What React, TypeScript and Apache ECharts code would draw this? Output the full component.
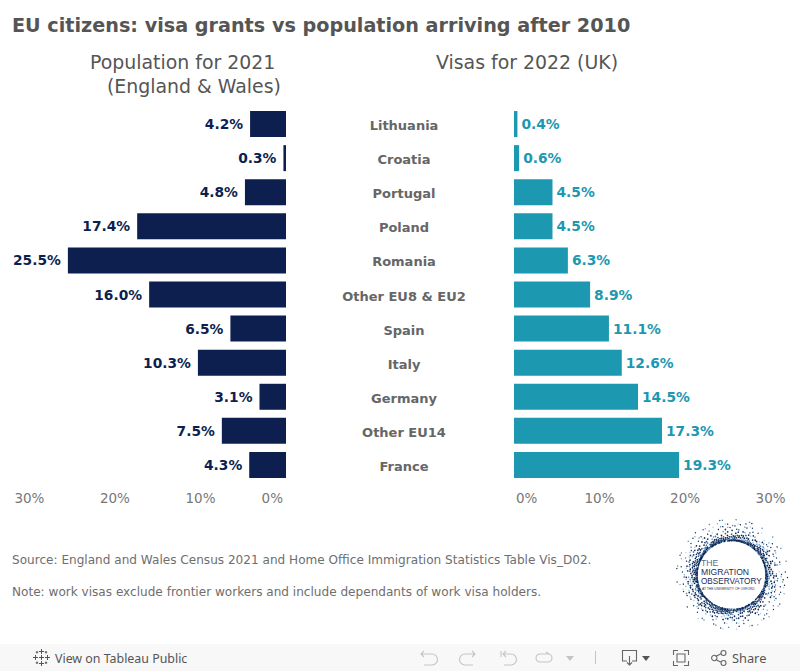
import React, { useEffect, useRef } from "react";
import * as echarts from "echarts";

const categories = ["Lithuania", "Croatia", "Portugal", "Poland", "Romania", "Other EU8 & EU2", "Spain", "Italy", "Germany", "Other EU14", "France"];
const population = [4.2, 0.3, 4.8, 17.4, 25.5, 16.0, 6.5, 10.3, 3.1, 7.5, 4.3];
const visas = [0.4, 0.6, 4.5, 4.5, 6.3, 8.9, 11.1, 12.6, 14.5, 17.3, 19.3];

const FONT = "DejaVu Sans";
const NAVY = "#0d1f4f";
const TEAL = "#1c98b0";

echarts.graphic.registerShape("tbUndo", echarts.graphic.extendPath("M1 4 L12 4 A5.5 5.5 0 0 1 12 15 L4 15 M4 1 L1 4 L4 7", {}));
echarts.graphic.registerShape("tbRedo", echarts.graphic.extendPath("M15 4 L5 4 A5.5 5.5 0 0 0 5 15 L13 15 M12 1 L15 4 L12 7", {}));
echarts.graphic.registerShape("tbRevert", echarts.graphic.extendPath("M1 1 L1 7 M3 4 L11 4 A5.5 5.5 0 0 1 11 15 L4 15 M6 1 L3 4 L6 7", {}));
echarts.graphic.registerShape("tbRefresh", echarts.graphic.extendPath("M12 3 L4 3 A4 4 0 0 0 4 11 L12 11 A4 4 0 0 0 12 3 M10 1 L13 3", {}));
echarts.graphic.registerShape("tbDownload", echarts.graphic.extendPath("M5 11 L0.5 11 L0.5 0.5 L14.5 0.5 L14.5 11 L10 11 M7.5 6 L7.5 15 M5 12.5 L7.5 15 L10 12.5", {}));
echarts.graphic.registerShape("tbFull", echarts.graphic.extendPath("M0.5 5 L0.5 0.5 L5 0.5 M11 0.5 L15.5 0.5 L15.5 5 M15.5 11 L15.5 15.5 L11 15.5 M5 15.5 L0.5 15.5 L0.5 11 M4 4 L12 4 L12 12 L4 12 Z", {}));
echarts.graphic.registerShape("tbShare", echarts.graphic.extendPath("M4.5 6.5 L10.5 3.5 M4.5 9.5 L10.5 12.5 M6 8 A2.7 2.7 0 1 1 0.6 8 A2.7 2.7 0 1 1 6 8 M15 3 A2.5 2.5 0 1 1 10 3 A2.5 2.5 0 1 1 15 3 M15 13 A2.5 2.5 0 1 1 10 13 A2.5 2.5 0 1 1 15 13", {}));
echarts.graphic.registerShape("tbLogo", echarts.graphic.extendPath("M8.5 0 L8.5 5 M6 2.5 L11 2.5 M8.5 12 L8.5 17 M6 14.5 L11 14.5 M2.5 6 L2.5 11 M0 8.5 L5 8.5 M14.5 6 L14.5 11 M12 8.5 L17 8.5 M8.5 6 L8.5 11 M6 8.5 L11 8.5 M4 2 L4 4.5 M2.8 3.2 L5.2 3.2 M13 2 L13 4.5 M11.8 3.2 L14.2 3.2 M4 12.5 L4 15 M2.8 13.8 L5.2 13.8 M13 12.5 L13 15 M11.8 13.8 L14.2 13.8", {}));

function logoDots() {
  const cx = 731.5, cy = 575;
  const dark = ["#0d1f4f", "#16305f", "#24527f", "#0d1f4f"];
  const light = ["#3c7fae", "#6fa8cf", "#a9cfe6"];
  const dots: any[] = [];
  const golden = 2.399963;
  for (let i = 0; i < 1250; i++) {
    const u = (i * 0.754877) % 1;
    const r = 34.5 + 22 * Math.pow(u, 2.9);
    const a = i * golden;
    dots.push({
      type: "circle", silent: true,
      shape: { cx: cx + r * Math.cos(a), cy: cy + r * Math.sin(a), r: r > 46 ? 0.65 : 0.8 },
      style: { fill: (u > 0.72 ? i % 2 === 0 : i % 5 === 0) ? light[i % 3] : dark[i % 4] },
    });
  }
  return dots;
}

const txt = (x: number, y: number, text: string, font: string, fill: string) => ({
  type: "text", x, y, silent: true,
  style: { text, font, fill, textVerticalAlign: "middle", textBaseline: "middle" },
});

function buildOption() {
  const toolbarStroke = { stroke: "#666666", lineWidth: 1.1, fill: "none" };
  const disabledStroke = { stroke: "#c4c4c4", lineWidth: 1.1, fill: "none" };
  const axisLabelBase = { color: "#777777", fontFamily: FONT, fontSize: 13.5, margin: 9 };
  const zeroStyle = { color: "#777777", fontFamily: FONT, fontSize: 13.5 };
  const xCommon = {
    type: "value", min: 0, max: 30, interval: 10,
    axisLine: { show: false }, axisTick: { show: false }, splitLine: { show: false },
  };
  return {
    animation: false,
    backgroundColor: "#ffffff",
    grid: [
      { left: 29.4, width: 256.6, top: 107, height: 375 },
      { left: 514, width: 256.6, top: 107, height: 375 },
    ],
    xAxis: [
      { ...xCommon, gridIndex: 0, inverse: true, axisLabel: { ...axisLabelBase, alignMinLabel: "right", formatter: (v: number) => (v === 0 ? "{z|0%}" : `${v}%`), rich: { z: { ...zeroStyle, padding: [0, 3, 0, 0] } } } },
      { ...xCommon, gridIndex: 1, axisLabel: { ...axisLabelBase, alignMinLabel: "left", formatter: (v: number) => (v === 0 ? "{z|0%}" : `${v}%`), rich: { z: { ...zeroStyle, padding: [0, 0, 0, 2] } } } },
    ],
    yAxis: [
      { type: "category", gridIndex: 0, inverse: true, data: categories, axisLine: { show: false }, axisTick: { show: false }, axisLabel: { show: false } },
      {
        type: "category", gridIndex: 1, inverse: true, data: categories,
        axisLine: { show: false }, axisTick: { show: false },
        axisLabel: {
          margin: 110, align: "center",
          formatter: (v: string) => `{c|${v}}`,
          rich: { c: { color: "#666666", fontFamily: FONT, fontSize: 13, fontWeight: "bold", padding: [3, 0, 0, 0] } },
        },
      },
    ],
    series: [
      {
        type: "bar", xAxisIndex: 0, yAxisIndex: 0, data: population, barWidth: 26,
        itemStyle: { color: NAVY },
        label: { show: true, position: "left", distance: 7, color: NAVY, fontFamily: FONT, fontSize: 13.8, fontWeight: "bold", formatter: (p: any) => `${p.value.toFixed(1)}%` },
      },
      {
        type: "bar", xAxisIndex: 1, yAxisIndex: 1, data: visas, barWidth: 26,
        itemStyle: { color: TEAL },
        label: { show: true, position: "right", distance: 4, color: TEAL, fontFamily: FONT, fontSize: 13.8, fontWeight: "bold", formatter: (p: any) => `${p.value.toFixed(1)}%` },
      },
    ],
    graphic: [
      txt(12, 25, "EU citizens: visa grants vs population arriving after 2010", `bold 19.2px "${FONT}"`, "#555555"),
      txt(90, 62, "Population for 2021", `18.9px "${FONT}"`, "#555555"),
      txt(107, 86, "(England & Wales)", `18.9px "${FONT}"`, "#555555"),
      txt(436, 62, "Visas for 2022 (UK)", `18.9px "${FONT}"`, "#555555"),
      txt(12, 560, "Source: England and Wales Census 2021 and Home Office Immigration Statistics Table Vis_D02.", `12.08px "${FONT}"`, "#6e6e6e"),
      txt(12, 592, "Note: work visas exclude frontier workers and include dependants of work visa holders.", `12.08px "${FONT}"`, "#6e6e6e"),
      { type: "group", silent: true, children: logoDots() },
      txt(701, 563, "THE", `8.6px "Liberation Sans"`, "#56698f"),
      txt(701, 572, "MIGRATION", `8.6px "Liberation Sans"`, "#1b2c5a"),
      txt(701, 581, "OBSERVATORY", `8.2px "Liberation Sans"`, "#1b2c5a"),
      txt(702, 588.5, "AT THE UNIVERSITY OF OXFORD", `3.3px "Liberation Sans"`, "#1b2c5a"),
      { type: "rect", silent: true, shape: { x: 0, y: 644, width: 800, height: 27 }, style: { fill: "#f8f8f8" } },
      { type: "tbLogo", x: 33, y: 649, style: { stroke: "#555555", lineWidth: 1, fill: "none" }, silent: true },
      txt(55, 658, "View on Tableau Public", `12.4px "Noto Sans"`, "#555555"),
      { type: "tbUndo", x: 420, y: 650, style: disabledStroke, silent: true },
      { type: "tbRedo", x: 460, y: 650, style: disabledStroke, silent: true },
      { type: "tbRevert", x: 500, y: 650, style: disabledStroke, silent: true },
      { type: "tbRefresh", x: 536, y: 651, style: disabledStroke, silent: true },
      { type: "polygon", silent: true, shape: { points: [[566, 656], [574, 656], [570, 661]] }, style: { fill: "#c4c4c4" } },
      { type: "line", silent: true, shape: { x1: 595.5, y1: 651, x2: 595.5, y2: 664 }, style: { stroke: "#c4c4c4", lineWidth: 1 } },
      { type: "tbDownload", x: 622, y: 650, style: toolbarStroke, silent: true },
      { type: "polygon", silent: true, shape: { points: [[642, 656], [650, 656], [646, 661]] }, style: { fill: "#555555" } },
      { type: "tbFull", x: 673, y: 650, style: toolbarStroke, silent: true },
      { type: "tbShare", x: 711, y: 650, style: toolbarStroke, silent: true },
      txt(732, 658, "Share", `12.8px "Noto Sans"`, "#555555"),
    ],
  };
}

export default function App() {
  const ref = useRef<HTMLDivElement>(null);
  useEffect(() => {
    document.body.style.margin = "0";
    const chart = echarts.init(ref.current!, undefined, { renderer: "svg" });
    chart.setOption(buildOption() as any);
    return () => chart.dispose();
  }, []);
  return <div ref={ref} style={{ width: 800, height: 671 }} />;
}
